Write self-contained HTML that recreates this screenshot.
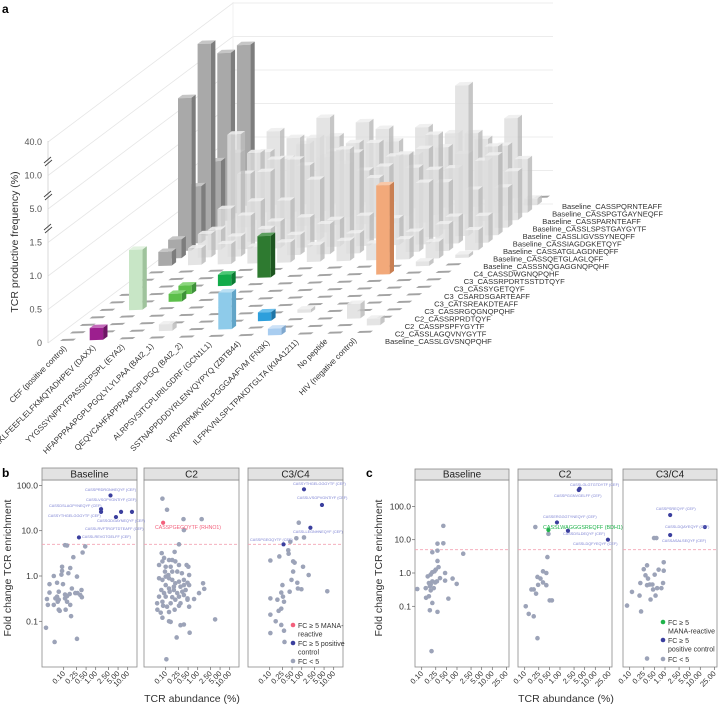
<!DOCTYPE html>
<html><head><meta charset="utf-8"><style>
html,body{margin:0;padding:0;background:#fff;}
svg{display:block;font-family:"Liberation Sans",sans-serif;}
</style></head><body>
<svg id="chart" width="719" height="706" viewBox="0 0 719 706" xmlns="http://www.w3.org/2000/svg">
<text x="2" y="13" font-size="12" font-weight="bold">a</text>
<text x="2" y="477" font-size="12" font-weight="bold">b</text>
<text x="366" y="477" font-size="12" font-weight="bold">c</text>
<text transform="translate(18,242) rotate(-90)" text-anchor="middle" font-size="10.5" fill="#333">TCR productive frequency (%)</text>
<text transform="translate(11,568) rotate(-90)" text-anchor="middle" font-size="10.5" fill="#333">Fold change TCR enrichment</text>
<text transform="translate(382,568) rotate(-90)" text-anchor="middle" font-size="10.5" fill="#333">Fold change TCR enrichment</text>
<text x="192" y="702" text-anchor="middle" font-size="10.5" fill="#333">TCR abundance (%)</text>
<text x="566" y="702" text-anchor="middle" font-size="10.5" fill="#333">TCR abundance (%)</text>
<g id="a3d"></g>
<g id="pb"></g>
<g id="pc"></g>
</svg>
<script>
const NS='http://www.w3.org/2000/svg';
function mk(tag,attrs,parent){const e=document.createElementNS(NS,tag);for(const k in attrs)e.setAttribute(k,attrs[k]);parent.appendChild(e);return e;}

/* ---------- Panel a data ---------- */
const peptides=["CEF (positive control)","EKLFEEFLELFKMQTADHPEV (DAXX)","YYGSSYNPPYFPASSICPSPL (EYA2)","HFAPPPAAPGPLPGQLYLYLPAA (BAI2_1)","QEQVCAHFAPPPAAPGPLPGQ (BAI2_2)","ALRPSVSITCPLIRILGDRF (GCN1L1)","SSTNAPPDDDYRLENVQYPYQ (ZBTB44)","VRVPRPMKVIELPGGGAAFVM (FN3K)","ILFPKVNLSPLTPAKDTGLTA (KIAA1211)","No peptide","HIV (negative control)"];
const tcrRows=["Baseline_CASSLGVSNQPQHF","C2_CASSLAGQVNYGYTF","C2_CASSPSPFYGYTF","C2_CASSRPRDTQYF","C3_CASSRGQGNQPQHF","C3_CATSREAKDTEAFF","C3_CSARDSGARTEAFF","C3_CASSYGETQYF","C3_CASSRPDRTSSTDTQYF","C4_CASSDWGNQPQHF","Baseline_CASSSNQGAGGNQPQHF","Baseline_CASSQETGLAGLQFF","Baseline_CASSATGLAGDNEQFF","Baseline_CASSIAGDGKETQYF","Baseline_CASSLIGVSSYNEQFF","Baseline_CASSLSPSTGAYGYTF","Baseline_CASSPARNTEAFF","Baseline_CASSPGTGAYNEQFF","Baseline_CASSPQRNTEAFF"];
const freq0=[0,0.18,0,0,0,0,0,0.1,0,0,0];
const freq1=[0,0,0,0.1,0,0.55,0,0,0,0,0.1];
const freq2=[0,0,0,0,0,0,0.13,0,0,0.22,0];
const freq3=[0,0,0,0,0,0,0,0.05,0,0,0];
const freq4=[0,0.9,0,0,0,0,0,0,0,0,0];
const freq5=[0,0,0.12,0,0,0,0,0,0,0,0];
const freq6=[0,0,0.13,0,0,0,0,0,0,0,0];
const freq7=[0,0,0,0.17,0,0,0,0,0,0,0];
const freq8=[0,0,0,0,0.62,0,0,0,1.33,0,0];
const freq9=[0,0,0,0,0,0,0,0,0,0.07,0];
const freq10=[0.21,0.25,0.3,0.25,0.3,0.25,0.3,0.25,0.3,0.25,0.05];
const freq11=[0.28,0.35,0.3,0.4,0.3,0.45,0.3,0.35,0.3,0.4,0.3];
const freq12=[7.8,0.3,0.5,0.4,0.45,0.4,0.45,0.4,0.92,0.4,0.4];
const freq13=[0.85,0.5,0.6,0.6,0.9,1.34,0.9,1.24,1.0,7.5,1.19];
const freq14=[32,1.5,0.93,1.1,3.0,1.18,0.96,0.93,0.7,0.58,0.6];
const freq15=[1.0,0.8,1.0,0.9,1.1,0.8,1.0,1.1,0.8,0.9,0.73];
const freq16=[10.2,1.0,0.9,1.2,0.8,1.1,0.9,1.2,0.9,1.0,0.8];
const freq17=[0.9,0.9,1.1,0.8,1.0,1.2,0.8,0.9,1.1,0.9,0.1];
const freq18=[9,1.1,0.9,1.0,1.2,0.9,1.1,1.0,0.9,1.2,0];
const freqMatrix=[freq0,freq1,freq2,freq3,freq4,freq5,freq6,freq7,freq8,freq9,freq10,freq11,freq12,freq13,freq14,freq15,freq16,freq17,freq18];
const zTicks=[0,0.5,1.0,1.5,5.0,10.0,40.0];
const zTickLabels=["0","0.5","1.0","1.5","5.0","10.0","40.0"];
const highlightCells={"0,1":["#9c1f8e","#6e1565","#c46bbb"],"4,1":["#c8e6c6","#9fc39c","#e2f2e0"],"5,2":["#5cbf4a","#3f913a","#8bd67d"],"6,2":["#5cbf4a","#3f913a","#8bd67d"],"7,3":["#12ab4a","#0b7c34","#4cc775"],"8,4":["#2e7a30","#1d5520","#5d9f5f"],"1,5":["#8ecbea","#62a5c8","#b9e0f4"],"2,6":["#2d9fdc","#1f75a6","#6cc0ec"],"0,7":["#a9cdf0","#7fa8cf","#cde2f7"],"8,8":["#f2a97a","#c97f52","#f8c8a8"]};

function zpx(v){
  if(v<=1.5) return v*67;
  if(v<=5) return 100.5+(v-1.5)/3.5*33.5;
  if(v<=10) return 134+(v-5)/5*33.5;
  return 167.5+(v-10)/30*33.5;
}
function proj(p,r,h){return [60+29.7*p+9.83*r, 341-0.8*p-7.5*r-h];}
function pts(a){return a.map(q=>q[0].toFixed(1)+','+q[1].toFixed(1)).join(' ');}

const ga=document.getElementById('a3d');
zTicks.forEach((t,i)=>{
  const y=343-zpx(t);
  const l=mk('polyline',{points:`48,${y} 233,${y-139} 553,${y-139}`,fill:'none',stroke:'#e6e6e6','stroke-width':0.8},ga);
  
  
  const tx=mk('text',{x:42,y:y+3,'text-anchor':'end','font-size':9,fill:'#555'},ga);
  tx.textContent=zTickLabels[i];
  
  
});
const ax=mk('line',{x1:48,y1:141,x2:48,y2:343,stroke:'#d0d0d0','stroke-width':0.8},ga);


const bw=mk('line',{x1:233,y1:2,x2:233,y2:204,stroke:'#eeeeee','stroke-width':0.8},ga);


[160,194,227].forEach(y=>{
  const b=mk('path',{d:`M44,${y+3} L51,${y-3} M45,${y+6} L52,${y}`,stroke:'#444','stroke-width':0.9,fill:'none'},ga);
  
  
});
const W=0.45,D=0.45;
for(let r=tcrRows.length-1;r>=0;r--){
  for(let p=0;p<peptides.length;p++){
    const v=freqMatrix[r][p];
    const g=mk('g',{},ga);
    if(v<=0){
      
      
      mk('polygon',{points:pts([proj(p,r,0),proj(p+W,r,0),proj(p+W,r+D*0.6,0),proj(p,r+D*0.6,0)]),fill:'#a3a3a3'},g);
      continue;
    }
    
    
    const H=zpx(v);
    let c;
    const key=r+','+p;
    if(highlightCells[key]) c=highlightCells[key];
    else if(p===0) c=['#a9a9a9','#7d7d7d','#c6c6c6'];
    else c=['rgba(222,222,222,0.82)','rgba(188,188,188,0.85)','rgba(238,238,238,0.9)'];
    mk('polygon',{points:pts([proj(p+W,r,0),proj(p+W,r+D,0),proj(p+W,r+D,H),proj(p+W,r,H)]),fill:c[1]},g);
    mk('polygon',{points:pts([proj(p,r,H),proj(p+W,r,H),proj(p+W,r+D,H),proj(p,r+D,H)]),fill:c[2]},g);
    mk('polygon',{points:pts([proj(p,r,0),proj(p+W,r,0),proj(p+W,r,H),proj(p,r,H)]),fill:c[0]},g);
  }
}
peptides.forEach((s,p)=>{
  const x=67+29.0*p, y=349-0.8*p;
  const t=mk('text',{x:x,y:y,'text-anchor':'end','font-size':8,fill:'#333',transform:`rotate(-45 ${x} ${y})`},ga);
  t.textContent=s;
  
  
});
tcrRows.forEach((s,r)=>{
  const t=mk('text',{x:385+9.83*r,y:344-7.5*r,'font-size':7.6,fill:'#333'},ga);
  t.textContent=s;
  
  
});

/* ---------- Panel b data ---------- */
const bBaselineAbund=[0.11,0.127,0.47,0.39,0.2,0.089,0.16,0.089,0.085,0.049,0.14,0.26,0.036,0.062,0.095,0.18,0.36,0.07,0.11,0.154,0.27,0.062,0.127,0.036,0.03,0.055,0.07,0.11,0.127,0.23,0.33,0.37,0.049,0.065,0.032,0.075,0.07,0.16,0.17,0.028,0.052,0.26,0.115,1.47,1.47,2.9,4.3,6.2,13.6,0.3];
const bBaselineFC=[4.8,4.7,4.5,3.3,2.6,1.6,1.5,1.3,1.07,1.0,1.15,0.97,0.66,0.71,0.66,0.53,0.49,0.45,0.39,0.4,0.42,0.35,0.36,0.43,0.31,0.32,0.3,0.32,0.27,0.42,0.38,0.34,0.23,0.27,0.23,0.17,0.18,0.23,0.13,0.072,0.035,0.041,0.18,30,26,60,20,26,26,7.1];
const bBaselineGroup=[0,0,0,0,0,0,0,0,0,0,0,0,0,0,0,0,0,0,0,0,0,0,0,0,0,0,0,0,0,0,0,0,0,0,0,0,0,0,0,0,0,0,0,1,1,1,1,1,1,1];
const bC2Abund=[0.079,0.11,0.36,0.37,0.26,0.19,0.075,0.089,0.079,0.127,0.16,0.2,0.062,0.1,0.143,0.26,0.45,0.51,0.095,0.121,0.16,0.23,0.32,0.54,0.062,0.079,0.1,0.127,0.16,0.2,0.26,0.37,0.48,0.1,0.127,0.18,0.29,0.37,0.54,1.47,1.6,0.073,0.089,0.133,0.18,0.23,0.33,0.42,0.062,0.1,0.16,0.26,0.37,0.48,1.1,0.079,0.143,0.2,0.29,0.48,0.77,0.054,0.083,0.11,0.26,0.055,0.07,0.127,0.19,0.54,0.079,0.127,0.143,0.29,0.37,0.56,0.22,0.105,3.5,1.33,0.083];
const bC2FC=[51,29,18,10.3,5,3.4,3.2,2.5,2.1,2.25,2.25,2.1,1.75,1.6,1.6,1.75,1.75,1.6,1.25,1.05,1.25,1.25,1.15,1.05,0.89,0.82,0.97,0.89,0.82,0.69,0.75,0.82,0.71,0.63,0.53,0.58,0.58,0.63,0.63,0.69,0.52,0.49,0.42,0.45,0.49,0.42,0.45,0.49,0.35,0.35,0.34,0.35,0.38,0.32,0.42,0.27,0.25,0.3,0.25,0.3,0.31,0.25,0.22,0.21,0.22,0.18,0.155,0.16,0.18,0.21,0.12,0.1,0.097,0.082,0.085,0.056,0.044,0.0145,0.11,18,15];
const bC2Group=[0,0,0,0,0,0,0,0,0,0,0,0,0,0,0,0,0,0,0,0,0,0,0,0,0,0,0,0,0,0,0,0,0,0,0,0,0,0,0,0,0,0,0,0,0,0,0,0,0,0,0,0,0,0,0,0,0,0,0,0,0,0,0,0,0,0,0,0,0,0,0,0,0,0,0,0,0,0,0,0,2];
const bC3Abund=[0.81,0.68,1.18,0.44,0.38,0.39,0.2,0.105,0.54,0.6,1.1,0.54,1.65,0.48,0.73,0.25,0.76,0.98,6.3,0.42,0.23,0.26,0.105,0.174,0.28,0.23,0.19,0.105,0.154,0.23,0.28,0.105,0.29,1.18,4.3,1.87,0.27];
const bC3FC=[15,6.8,7.1,5.7,3.7,3.1,2.7,2.2,2.1,1.97,1.6,1.25,1.05,0.82,0.71,0.63,0.53,0.51,0.46,0.45,0.43,0.35,0.32,0.3,0.27,0.19,0.17,0.14,0.1,0.083,0.062,0.055,0.035,82,37,11.6,5];
const bC3Group=[0,0,0,0,0,0,0,0,0,0,0,0,0,0,0,0,0,0,0,0,0,0,0,0,0,0,0,0,0,0,0,0,0,1,1,1,1];
const fcTicks=[100,10,1,0.1];
const fcTickLabels=["100.0","10.0","1.0","0.1"];
const bAbundTicks=[0.1,0.25,0.5,1,2.5,5,10];
const bAbundTickLabels=["0.10","0.25","0.50","1.00","2.50","5.00","10.00"];
const facetNames=["Baseline","C2","C3/C4"];

/* ---------- Panel c data ---------- */
const cBaselineAbund=[0.075,0.148,0.13,0.133,0.16,0.17,0.18,0.2,0.18,0.2,0.23,0.25,0.18,0.22,0.24,0.27,0.28,0.2,0.28,0.41,0.41,0.28,0.3,0.33,0.46,0.46,0.75,0.98,1.5,0.57,0.2,0.17,0.28,0.19,0.16];
const cBaselineFC=[0.33,0.79,0.35,0.18,0.2,0.4,0.45,0.56,0.9,1.05,1.12,1.26,0.3,0.35,0.52,0.56,4.7,4.2,7.6,7.8,26,2.3,1.5,0.7,1.0,0.59,0.68,0.47,3.8,0.17,0.126,0.076,0.068,0.0045,0.5];
const cBaselineGroup=[0,0,0,0,0,0,0,0,0,0,0,0,0,0,0,0,0,0,0,0,0,0,0,0,0,0,0,0,0,0,0,0,0,0,0];
const cC2Abund=[0.2,0.47,0.44,0.107,0.13,0.18,0.155,0.18,0.21,0.23,0.24,0.28,0.33,0.41,0.33,0.41,0.51,0.59,0.23,3.4,3.6,0.82,1.68,22.8,0.47];
const cC2FC=[24,15,3.0,0.1,0.059,0.05,0.32,0.32,0.24,0.76,0.44,0.68,1.12,1.0,0.52,0.43,0.15,0.15,0.011,310,340,33,18.6,10,19.5];
const cC2Group=[0,0,0,0,0,0,0,0,0,0,0,0,0,0,0,0,0,0,0,1,1,1,1,1,3];
const cC3Abund=[0.49,0.57,0.084,0.116,0.19,0.21,0.2,0.25,0.31,0.28,0.33,0.31,0.37,0.44,0.51,0.46,0.39,0.54,0.6,0.66,0.79,0.88,0.92,0.92,0.31,1.4,13.5,1.4];
const cC3FC=[11.2,11.2,0.105,0.27,0.21,0.07,0.5,1.3,1.7,0.85,0.68,0.43,0.45,0.45,0.89,0.32,0.16,0.21,0.35,1.26,0.35,0.5,2.1,1.17,0.0027,55,24,13.8];
const cC3Group=[0,0,0,0,0,0,0,0,0,0,0,0,0,0,0,0,0,0,0,0,0,0,0,0,0,1,1,1];
const cAbundTicks=[0.1,0.25,0.5,1,2.5,5,10,25];
const cAbundTickLabels=["0.10","0.25","0.50","1.00","2.50","5.00","10.00","25.00"];

const groupColors=["#9ca3b8","#3b3f9e","#f3607c","#1fb34b"];
const L10=Math.log10;

function drawFigure(root,cfg){
  cfg.lefts.forEach((left,i)=>{
    const g=mk('g',{},root);
    
    
    const w=cfg.width;
    const frame=mk('rect',{x:left,y:cfg.plotTop,width:w,height:cfg.bottom-cfg.plotTop,fill:'#fff',stroke:'#8a8a8a','stroke-width':0.8},g);
    
    
    const strip=mk('rect',{x:left,y:cfg.stripTop,width:w,height:cfg.plotTop-cfg.stripTop,fill:'#e2e2e2',stroke:'#8a8a8a','stroke-width':0.8},g);
    
    
    const st=mk('text',{x:left+w/2,y:cfg.plotTop-2.5,'text-anchor':'middle','font-size':10,fill:'#222'},g);
    st.textContent=facetNames[i];
    
    
    const xs=v=>left+cfg.xOff+cfg.xDec*L10(v/0.1);
    const ys=v=>cfg.y1-cfg.yDec*L10(v);
    const thr=mk('line',{x1:left,x2:left+w,y1:ys(5),y2:ys(5),stroke:'#f4a3b4','stroke-width':0.9,'stroke-dasharray':'3,2'},g);
    
    
    cfg.xTicks.forEach((t,k)=>{
      const x=xs(t);
      const tk=mk('line',{x1:x,x2:x,y1:cfg.bottom,y2:cfg.bottom+3,stroke:'#666','stroke-width':0.7},g);
      
      
      const tl=mk('text',{x:x+2,y:cfg.bottom+7,'text-anchor':'end','font-size':7.5,fill:'#333',transform:`rotate(-45 ${x+2} ${cfg.bottom+7})`},g);
      tl.textContent=cfg.xTickLabels[k];
      
      
    });
    if(i===0){
      fcTicks.forEach((t,k)=>{
        const y=ys(t);
        const tk=mk('line',{x1:left-3,x2:left,y1:y,y2:y,stroke:'#666','stroke-width':0.7},g);
        
        
        const tl=mk('text',{x:left-4,y:y+3,'text-anchor':'end','font-size':8.5,fill:'#333'},g);
        tl.textContent=fcTickLabels[k];
        
        
      });
    }
    const A=cfg.abund[i],F=cfg.fc[i],G=cfg.group[i];
    A.forEach((a,k)=>{
      const c=mk('circle',{cx:xs(a),cy:ys(F[k]),r:G[k]?2.1:2.3,fill:groupColors[G[k]]},g);
      
      
    });
  });
}

drawFigure(document.getElementById('pb'),{id:'b',lefts:[42,144,248],width:95,stripTop:468,plotTop:480,bottom:667,xOff:21.7,xDec:32,y1:576,yDec:45.3,xTicks:bAbundTicks,xTickLabels:bAbundTickLabels,abund:[bBaselineAbund,bC2Abund,bC3Abund],fc:[bBaselineFC,bC2FC,bC3FC],group:[bBaselineGroup,bC2Group,bC3Group]});
drawFigure(document.getElementById('pc'),{id:'c',lefts:[415,518,623],width:94,stripTop:469,plotTop:480,bottom:667,xOff:6.7,xDec:35.3,y1:573,yDec:33.3,xTicks:cAbundTicks,xTickLabels:cAbundTickLabels,abund:[cBaselineAbund,cC2Abund,cC3Abund],fc:[cBaselineFC,cC2FC,cC3FC],group:[cBaselineGroup,cC2Group,cC3Group]});

const ann=[
 ['pb',85,491,'CASSPRDRGNHEQYF (CEF)','#7b80d2',3.8],['pb',86,501,'CASSLVSGPVGNTIYF (CEF)','#7b80d2',3.8],
 ['pb',49,507,'CASSDSLAGPYNEQYF (CEF)','#7b80d2',3.8],['pb',48,517,'CASSYTHGELGGGYTF (CEF)','#7b80d2',3.8],
 ['pb',97,522,'CASSGDGAYNEQYF (CEF)','#7b80d2',3.8],['pb',85,530,'CASSLRVFTRGFTDTEAFF (CEF)','#7b80d2',3.8],
 ['pb',82,538,'CASSLREVGTGELFF (CEF)','#7b80d2',3.8],['pb',155,529,'CASSPGEGQYTF (RHNO1)','#f3607c',5.2],
 ['pb',293,485,'CASSYTHGELGGGYTF (CEF)','#7b80d2',3.8],['pb',297,499,'CASSLVSGPVGNTIYF (CEF)','#7b80d2',3.8],
 ['pb',293,533,'CASSLLEGNHNEQYF (CEF)','#7b80d2',3.8],['pb',250,541,'CASSPGEGQYTF (CEF)','#7b80d2',3.8],
 ['pc',570,486,'CASSLGLGTGTDYTF (CEF)','#7b80d2',3.8],['pc',554,497,'CASSPGGNVGELFF (CEF)','#7b80d2',3.8],
 ['pc',543,518,'CASSERGGGTYNEQYF (CEF)','#7b80d2',3.8],['pc',543,529,'CASSLWAGGGSREQFF (BDH1)','#1fb34b',5.4],
 ['pc',563,535,'CASSDSLDEQYF (CEF)','#7b80d2',3.8],['pc',573,545,'CASSLDQFYEQYF (CEF)','#7b80d2',3.8],
 ['pc',656,510,'CASSPSREQYF (CEF)','#7b80d2',3.8],['pc',665,528,'CASSLDQAYEQYF (CEF)','#7b80d2',3.8],
 ['pc',662,542,'CASSASALSEQYF (CEF)','#7b80d2',3.8]];
ann.forEach(a=>{
  const t=mk('text',{x:a[1],y:a[2],'font-size':a[5],fill:a[4]},document.getElementById(a[0]));
  t.textContent=a[3];
  
  
});
function legend(root,x,y0,items){
  const g=mk('g',{},root);
  
  
  items.forEach(it=>{
    const c=mk('circle',{cx:x,cy:it[1],r:2.3,fill:groupColors[it[0]]},g);
    
    
    it[2].forEach((line,j)=>{
      const t=mk('text',{x:x+5,y:it[1]+3+j*8.5,'font-size':7,fill:'#333'},g);
      t.textContent=line;
      
      
    });
  });
}
legend(document.getElementById('pb'),293,0,[[2,625,['FC ≥ 5 MANA-','reactive']],[1,643,['FC ≥ 5 positive','control']],[0,661,['FC < 5']]]);
legend(document.getElementById('pc'),663,0,[[3,622,['FC ≥ 5','MANA-reactive']],[1,640,['FC ≥ 5','positive control']],[0,659,['FC < 5']]]);
</script>
</body></html>
